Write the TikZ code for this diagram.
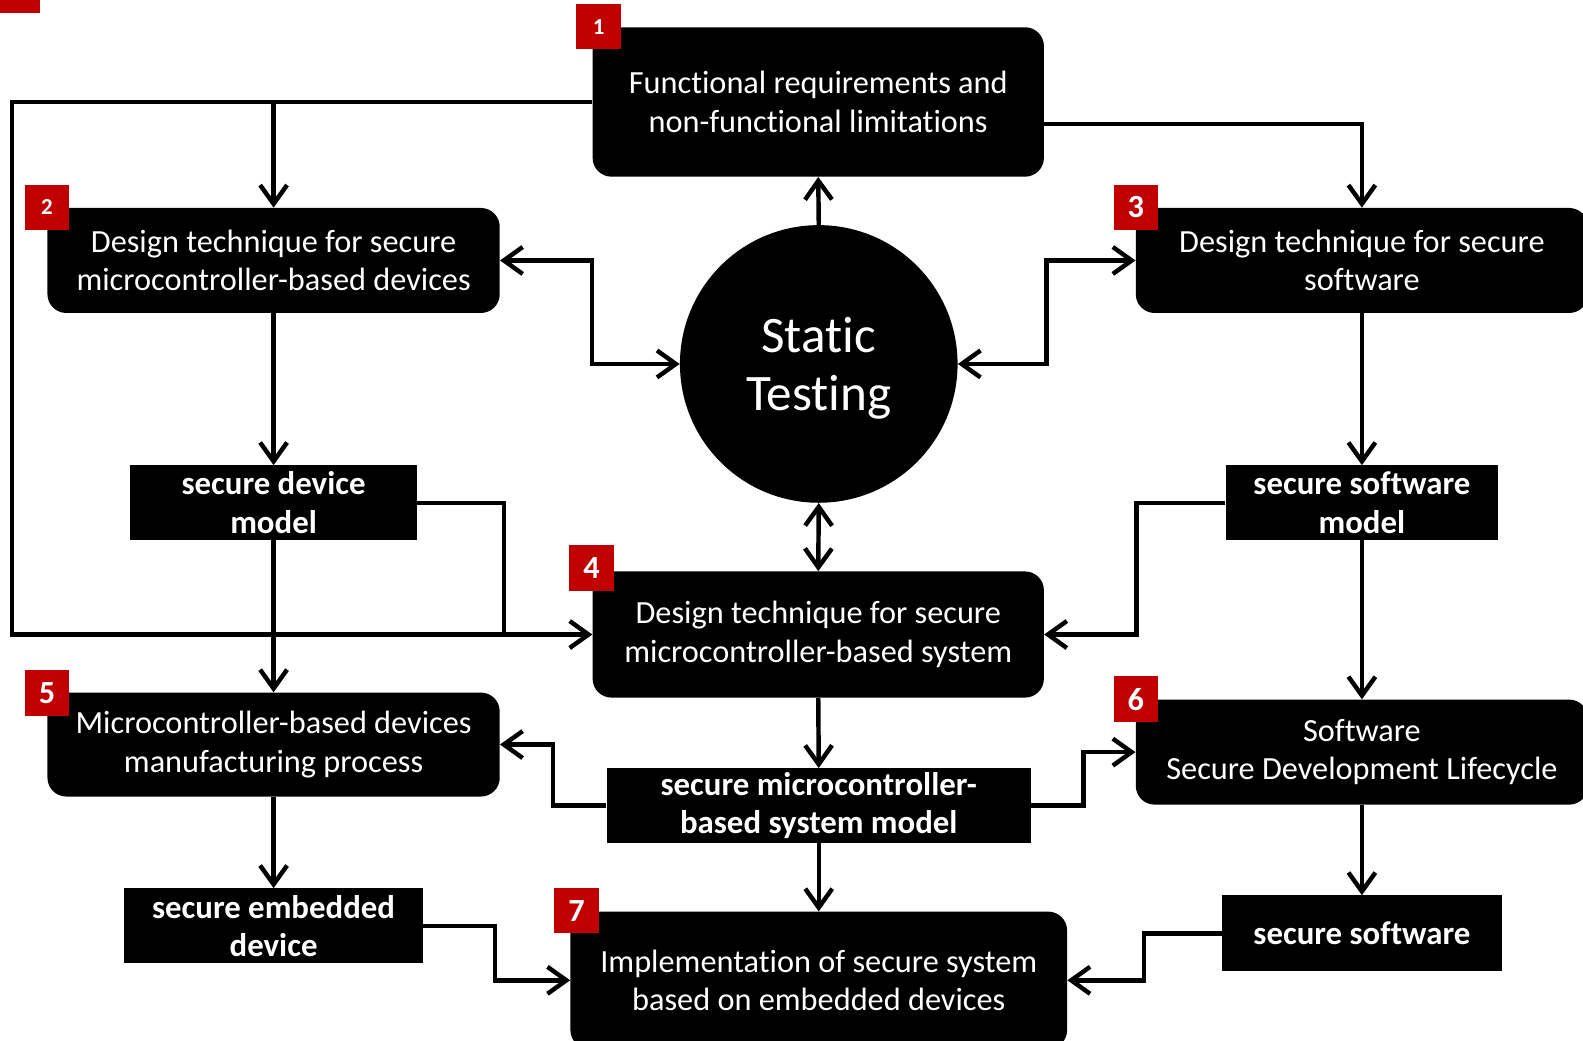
\documentclass[tikz,border=0pt]{standalone}
\usepackage{fontspec}
\setmainfont{Carlito}[Ligatures=NoCommon]
\usetikzlibrary{arrows.meta,calc}
\definecolor{badgered}{RGB}{192,0,0}
\tikzset{
  bigbox/.style={fill=black, rounded corners=14pt, text=white, align=center,
    inner sep=0pt, font=\fontsize{24}{28.5}\selectfont},
  modelbox/.style={fill=black, text=white, align=center,
    inner sep=0pt, font=\fontsize{24.4}{28.5}\selectfont\bfseries},
  badge/.style={fill=badgered, text=white, inner sep=0pt,
    minimum width=33pt, minimum height=33.75pt, font=\fontsize{17}{17}\selectfont\bfseries},
  badgebig/.style={badge, font=\fontsize{24}{24}\selectfont\bfseries},
  flow/.style={line width=3.3pt, -{Straight Barb[length=14pt,width=20pt]}},
  twoway/.style={line width=3.3pt, {Straight Barb[length=14pt,width=20pt]}-{Straight Barb[length=14pt,width=20pt]}},
  plain/.style={line width=3.3pt},
}
\begin{document}
\begin{tikzpicture}[x=0.75pt, y=-0.75pt]
  \useasboundingbox (0,0) rectangle (1568,1031);
  \clip (0,0) rectangle (1568,1031);
  \fill[badgered] (0,0) rectangle (40,13);
  % Draw boxes
  \node[bigbox, minimum width=335.25pt, minimum height=111pt] (req) at (810.5,101) {Functional requirements and\\non-functional limitations};
  \node[bigbox, minimum width=336pt, minimum height=78pt] (devtech) at (271,258) {Design technique for secure\\microcontroller-based devices};
  \node[bigbox, minimum width=336pt, minimum height=78pt] (swtech) at (1349,258) {Design technique for secure\\software};
  \node[circle, fill=black, text=white, align=center, inner sep=0pt, minimum size=206.25pt,
    text depth=0pt, font=\fontsize{38}{42.5}\selectfont] (static) at (811,360.5) {Static\\Testing};
  \node[modelbox, minimum width=213pt, minimum height=55.5pt] (devmodel) at (271,498) {secure device\\model};
  \node[modelbox, minimum width=202.5pt, minimum height=55.5pt] (swmodel) at (1349,498) {secure software\\model};
  \node[bigbox, minimum width=335.25pt, minimum height=93.75pt] (systech) at (810.5,628.5) {Design technique for secure\\microcontroller-based system};
  \node[bigbox, minimum width=336pt, minimum height=77.25pt] (manuf) at (271,737.5) {Microcontroller-based devices\\manufacturing process};
  \node[modelbox, minimum width=315pt, minimum height=55.5pt] (sysmodel) at (811,798) {secure microcontroller-\\based system model};
  \node[bigbox, minimum width=336pt, minimum height=78pt] (sdl) at (1349,745) {Software\\Secure Development Lifecycle};
  \node[modelbox, minimum width=222pt, minimum height=55.5pt] (embdev) at (271,917) {secure embedded\\device};
  \node[modelbox, minimum width=207.75pt, minimum height=56.25pt] (sw) at (1349,924.5) {secure software};
  \node[bigbox, minimum width=369pt, minimum height=102pt] (impl) at (811,971) {Implementation of secure system\\based on embedded devices};
  % Draw badges
  \node[badge] (b1) at (593,26.5) {1};
  \node[badge] (b2) at (46.5,205.5) {2};
  \node[badgebig] (b3) at (1125,205.5) {3};
  \node[badgebig] (b4) at (586,562.5) {4};
  \node[badgebig] (b5) at (46.5,686.5) {5};
  \node[badgebig] (b6) at (1125,692.5) {6};
  \node[badgebig] (b7) at (571,902) {7};
  % Draw connectors
  \coordinate (lft) at (12,628.5);
  \coordinate (split) at (devtech.north |- req.west);
  \coordinate (join) at (499,628.5);
  \draw[flow] (req.west) -| (lft) -- (systech.west);
  \draw[flow] (split) -- (devtech.north);
  \draw[flow] ($(req.east)+(0,22)$) -| (swtech.north);
  \draw[flow] (static.north) -- (req.south);
  \draw[twoway] (devtech.east) -- ++(91,0) |- (static.west);
  \draw[twoway] (static.east) -- ++(88,0) |- (swtech.west);
  \draw[twoway] (static.south) -- (systech.north);
  \draw[flow] (devtech.south) -- (devmodel.north);
  \draw[flow] (swtech.south) -- (swmodel.north);
  \draw[plain] (devmodel.east) -| (join);
  \draw[flow] (devmodel.south) -- (manuf.north);
  \draw[flow] (swmodel.west) -- ++(-88,0) |- (systech.east);
  \draw[flow] (swmodel.south) -- (sdl.north);
  \draw[flow] (systech.south) -- (sysmodel.north);
  \draw[flow] (sysmodel.west) -- ++(-53,0) |- (manuf.east);
  \draw[flow] (sysmodel.east) -- ++(52,0) |- (sdl.west);
  \draw[flow] (sysmodel.south) -- (impl.north);
  \draw[flow] (manuf.south) -- (embdev.north);
  \draw[flow] (sdl.south) -- (sw.north);
  \draw[flow] (embdev.east) -- ++(71,0) |- (impl.west);
  \draw[flow] (sw.west) -- ++(-77,0) |- (impl.east);
\end{tikzpicture}
\end{document}
